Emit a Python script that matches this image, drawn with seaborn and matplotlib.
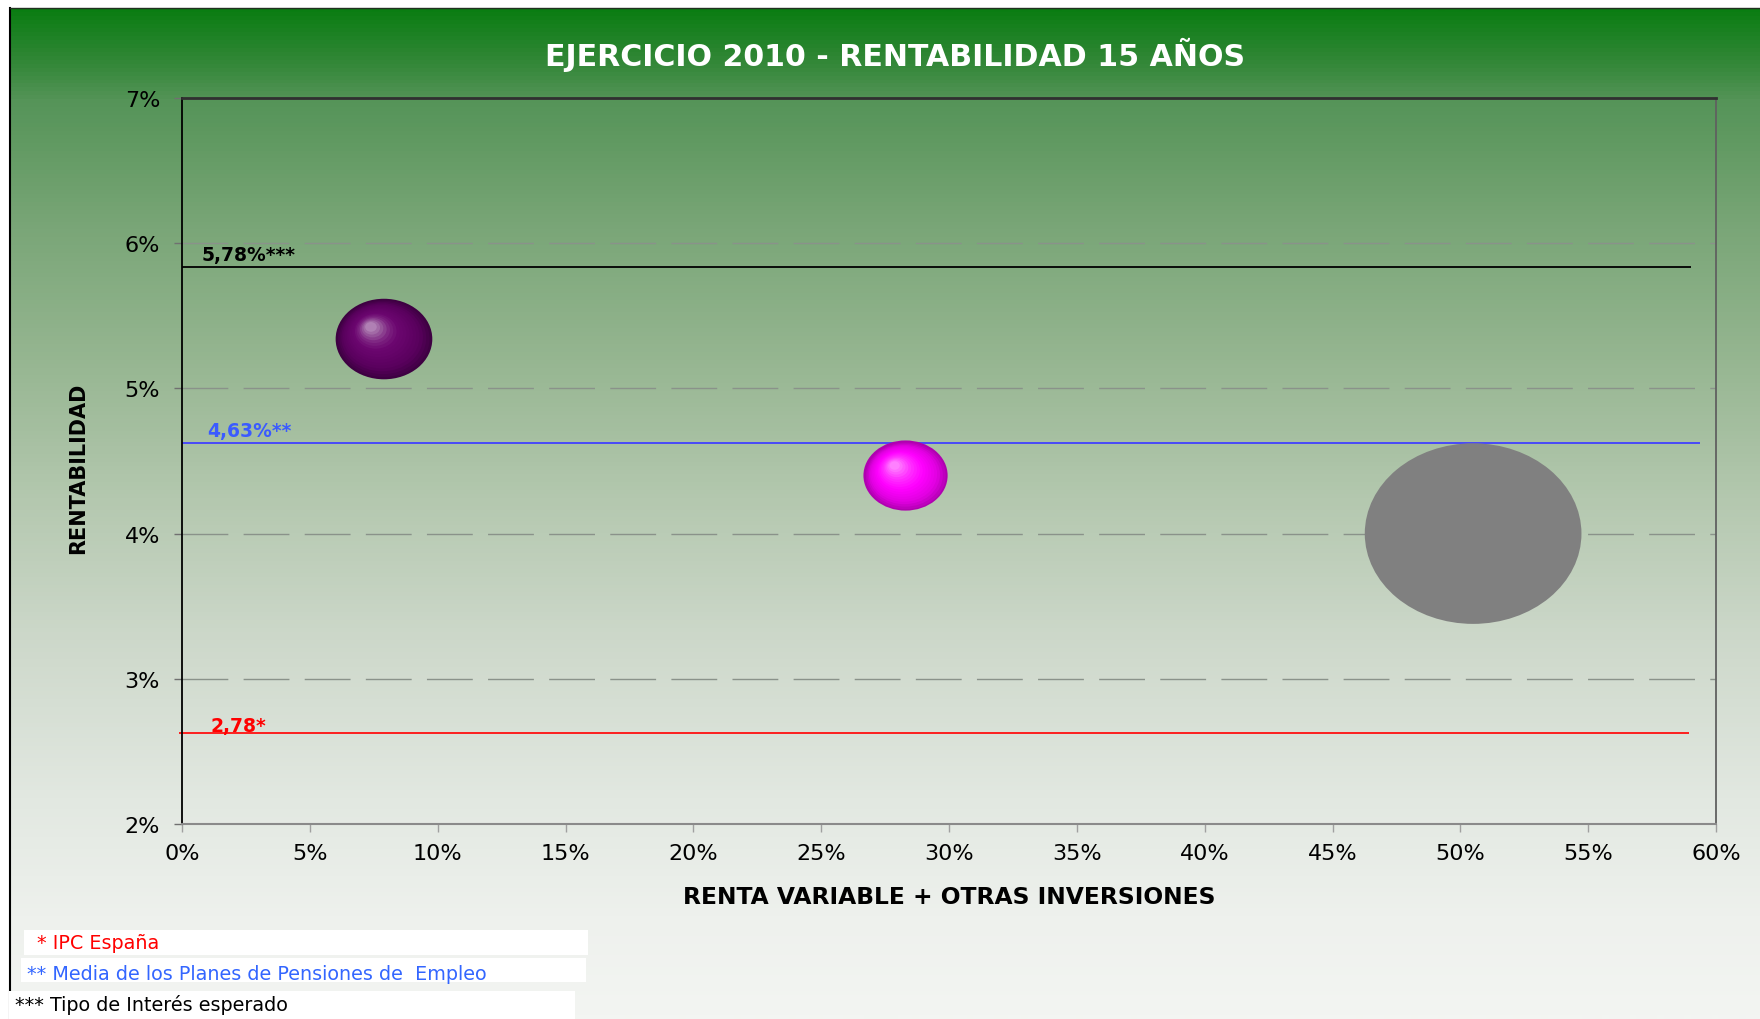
import numpy as np
import pandas as pd
import seaborn as sns
import matplotlib
matplotlib.use('Agg')
import matplotlib.pyplot as plt
from matplotlib.path import Path
from matplotlib.markers import MarkerStyle
from matplotlib.transforms import Affine2D
from matplotlib.colors import LinearSegmentedColormap
from matplotlib.patches import Rectangle
from matplotlib.ticker import FuncFormatter

# Planes (burbujas)
planes = ['Plan 1', 'Plan 2', 'Plan 3']
renta_variable = [7.9, 28.3, 50.5]      # % renta variable + otras inversiones
rentabilidad = [5.34, 4.40, 4.00]       # % rentabilidad 15 anos
patrimonio = [19.9, 15.1, 100.0]        # tamano relativo de burbuja
colores_planes = ['#3e0042', '#b000b0', '#808080']

# Lineas de referencia
ref_valores = [5.834, 4.624, 2.625]
ref_inicio = [0.0, 0.0, -0.1]
ref_fin = [59.04, 59.39, 58.96]
ref_etiquetas = ['5,78%***', '4,63%**', '2,78*']
ref_colores = ['#000000', '#4040ff', '#ff1010']
ref_texto_colores = ['#000000', '#3b5bff', '#ff0000']

x_ticks = [0, 5, 10, 15, 20, 25, 30, 35, 40, 45, 50, 55, 60]
y_ticks = [2, 3, 4, 5, 6, 7]

titulo = 'EJERCICIO 2010 - RENTABILIDAD 15 AÑOS'
x_label = 'RENTA VARIABLE + OTRAS INVERSIONES'
y_label = 'RENTABILIDAD'

notas = ['* IPC España', '** Media de los Planes de Pensiones de  Empleo', '*** Tipo de Interés esperado']
notas_colores = ['#ff0000', '#3366ff', '#000000']

plt.rcParams['font.family'] = ['DejaVu Sans']

W, H = 1760, 1020
fig = plt.figure(figsize=(W / 100, H / 100), dpi=100, facecolor='white')

# Fondo degradado (coordenadas en pixeles)
bg = fig.add_axes([0, 0, 1, 1], zorder=0)
fondo_y = [9, 60, 100, 220, 360, 500, 640, 800, 920, 1020]
fondo_rgb = [(10, 125, 18), (50, 135, 55), (85, 148, 88), (120, 165, 118), (150, 182, 145),
             (180, 200, 175), (205, 216, 202), (226, 232, 225), (238, 241, 237), (243, 245, 242)]
cmap_fondo = LinearSegmentedColormap.from_list(
    'fondo', [((y - 9) / (1020 - 9), np.array(c) / 255) for y, c in zip(fondo_y, fondo_rgb)])
bg.imshow(np.linspace(0, 1, 1011)[:, None], cmap=cmap_fondo, aspect='auto',
          extent=[10, W, H, 9], interpolation='bilinear')
bg.plot([10, 10], [9, H], color='black', lw=1.5)
bg.plot([10, W], [9, 9], color='#203020', lw=1)
bg.set_xlim(0, W)
bg.set_ylim(H, 0)
bg.axis('off')

# Notas al pie
cajas = [(24, 931, 564, 25), (21, 959, 565, 24), (9, 992, 566, 28)]
texto_pos = [(37, 949), (27, 980), (15, 1011.5)]
for (cx, cy, cw, ch), (tx, ty), nota, col in zip(cajas, texto_pos, notas, notas_colores):
    bg.add_patch(Rectangle((cx, cy), cw, ch, facecolor='white', edgecolor='none', zorder=3))
    bg.text(tx, ty, nota, color=col, fontsize=13.8, va='baseline', ha='left', zorder=4)

# Area de grafico
ax = fig.add_axes([182 / W, 1 - 825 / H, (1716 - 182) / W, (825 - 99) / H], zorder=1)
ax.set_facecolor('none')

df = pd.DataFrame({'plan': planes, 'renta_variable': renta_variable,
                   'rentabilidad': rentabilidad, 'patrimonio': patrimonio})

elipse = Path.unit_circle().transformed(Affine2D().scale(0.6, 0.5))
tam_max = 24340

sns.scatterplot(data=df, x='renta_variable', y='rentabilidad', hue='plan',
                palette=dict(zip(planes, colores_planes)), size='patrimonio',
                sizes=(0, tam_max), size_norm=(0, 100), marker=elipse,
                linewidth=0, legend=False, ax=ax, zorder=3)

# Efecto esfera para las dos primeras burbujas
sombras = {
    'Plan 1': [(0, '#3e0042'), (0.2, '#58005c'), (0.6, '#6c0670'), (0.75, '#7c2280'),
               (0.9, '#985a9c'), (1.0, '#b080b4')],
    'Plan 2': [(0, '#b000b0'), (0.2, '#e000e0'), (0.5, '#ff00ff'), (0.75, '#ff30ff'),
               (0.9, '#ff60ff'), (1.0, '#ff80ff')],
}
n = 18
for plan, x, y, p in zip(planes, renta_variable, rentabilidad, patrimonio):
    if plan not in sombras:
        continue
    cmap = LinearSegmentedColormap.from_list('esfera', sombras[plan])
    s = tam_max * p / 100
    for i in range(1, n):
        t = i / (n - 1)
        f = 1 - 0.88 * t
        m = MarkerStyle(elipse, transform=Affine2D().scale(f).translate(-0.14 * t, 0.13 * t))
        ax.scatter([x], [y], s=s, marker=m, color=cmap(t), linewidth=0, zorder=4)

# Lineas de referencia y etiquetas
etiqueta_x = [0.77, 1.0, 1.1]
etiqueta_off = [5.3, 5.3, 1.9]
for v, x0, x1, lbl, col, tcol, lx, off in zip(ref_valores, ref_inicio, ref_fin, ref_etiquetas,
                                               ref_colores, ref_texto_colores, etiqueta_x, etiqueta_off):
    ax.hlines(v, x0, x1, color=col, lw=1.3, zorder=2, clip_on=False)
    ax.annotate(lbl, xy=(lx, v), xytext=(0, off), textcoords='offset points',
                va='baseline', ha='left', fontsize=13.5, fontweight='bold', color=tcol, zorder=5)

ax.set_xlim(0, 60)
ax.set_ylim(2, 7)
ax.set_xticks(x_ticks)
ax.set_yticks(y_ticks)
pct = FuncFormatter(lambda v, pos: f'{v:.0f}%')
ax.xaxis.set_major_formatter(pct)
ax.yaxis.set_major_formatter(pct)
ax.grid(axis='y', color='#8a928a', lw=1, linestyle=(0, (33, 11)))
ax.grid(axis='x', visible=False)
ax.set_axisbelow(True)

ax.tick_params(axis='y', length=5.8, width=1, color='#707070', pad=10, labelsize=16, direction='out')
ax.tick_params(axis='x', length=5.5, width=1, color='#a0a0a0', pad=8, labelsize=16, direction='out')

ax.spines['top'].set_color('#303030')
ax.spines['top'].set_linewidth(2)
ax.spines['right'].set_color('#606060')
ax.spines['right'].set_linewidth(1.3)
ax.spines['left'].set_color('black')
ax.spines['left'].set_linewidth(1.3)
ax.spines['bottom'].set_color('#8a8a8a')
ax.spines['bottom'].set_linewidth(1.5)

ax.set_xlabel(x_label, fontsize=16.8, fontweight='bold')
ax.xaxis.set_label_coords(0.5, -0.084)
ax.set_ylabel(y_label, fontsize=15, fontweight='bold')
ax.yaxis.set_label_coords(-0.0613, 0.4917)

fig.text(895 / W, 1 - 65.7 / H, titulo, ha='center', va='baseline', color='white',
         fontsize=21.6, fontweight='bold')

fig.savefig('out.png', dpi=100)
